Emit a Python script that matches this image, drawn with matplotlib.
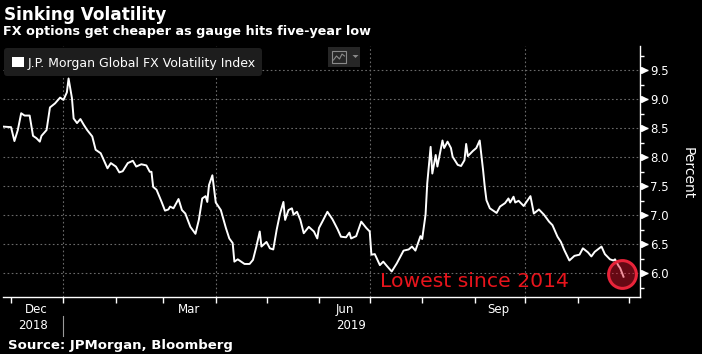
import matplotlib
matplotlib.use("Agg")
import matplotlib.pyplot as plt
import matplotlib.dates as mdates
from matplotlib.patches import FancyBboxPatch, Rectangle, Polygon
from matplotlib.ticker import MultipleLocator
import pandas as pd

# J.P. Morgan Global FX Volatility Index
dates = [
    "2018-11-26", "2018-12-01", "2018-12-03", "2018-12-05", "2018-12-07", "2018-12-09",
    "2018-12-12", "2018-12-14", "2018-12-16", "2018-12-18", "2018-12-19", "2018-12-22",
    "2018-12-24", "2018-12-27", "2018-12-30", "2019-01-01", "2019-01-03", "2019-01-04",
    "2019-01-06", "2019-01-07", "2019-01-09", "2019-01-11", "2019-01-13", "2019-01-15",
    "2019-01-18", "2019-01-20", "2019-01-23", "2019-01-27", "2019-01-29", "2019-02-01",
    "2019-02-03", "2019-02-05", "2019-02-08", "2019-02-11", "2019-02-13", "2019-02-16",
    "2019-02-19", "2019-02-21", "2019-02-22", "2019-02-23", "2019-02-25", "2019-02-28",
    "2019-03-02", "2019-03-04", "2019-03-05", "2019-03-07", "2019-03-10", "2019-03-12",
    "2019-03-14", "2019-03-17", "2019-03-20", "2019-03-22", "2019-03-24", "2019-03-26",
    "2019-03-27", "2019-03-28", "2019-03-30", "2019-04-01", "2019-04-04", "2019-04-07",
    "2019-04-09", "2019-04-11", "2019-04-12", "2019-04-14", "2019-04-18", "2019-04-21",
    "2019-04-23", "2019-04-25", "2019-04-27", "2019-04-28", "2019-05-01", "2019-05-03",
    "2019-05-05", "2019-05-07", "2019-05-09", "2019-05-11", "2019-05-12", "2019-05-14",
    "2019-05-16", "2019-05-17", "2019-05-19", "2019-05-21", "2019-05-23", "2019-05-26",
    "2019-05-29", "2019-05-31", "2019-06-01", "2019-06-03", "2019-06-06", "2019-06-09",
    "2019-06-12", "2019-06-14", "2019-06-17", "2019-06-19", "2019-06-20", "2019-06-23",
    "2019-06-26", "2019-06-29", "2019-07-01", "2019-07-02", "2019-07-04", "2019-07-07",
    "2019-07-09", "2019-07-11", "2019-07-14", "2019-07-17", "2019-07-21", "2019-07-24",
    "2019-07-26", "2019-07-28", "2019-07-31", "2019-08-01", "2019-08-03", "2019-08-04",
    "2019-08-06", "2019-08-07", "2019-08-09", "2019-08-10", "2019-08-13", "2019-08-14",
    "2019-08-16", "2019-08-18", "2019-08-19", "2019-08-22", "2019-08-24", "2019-08-26",
    "2019-08-27", "2019-08-28", "2019-08-31", "2019-09-02", "2019-09-04", "2019-09-06",
    "2019-09-07", "2019-09-08", "2019-09-10", "2019-09-11", "2019-09-14", "2019-09-16",
    "2019-09-19", "2019-09-21", "2019-09-22", "2019-09-24", "2019-09-25", "2019-09-27",
    "2019-09-30", "2019-10-04", "2019-10-06", "2019-10-09", "2019-10-12", "2019-10-15",
    "2019-10-17", "2019-10-20", "2019-10-22", "2019-10-24", "2019-10-27", "2019-10-30",
    "2019-11-02", "2019-11-04", "2019-11-07", "2019-11-09", "2019-11-11", "2019-11-15",
    "2019-11-17", "2019-11-20", "2019-11-22", "2019-11-23", "2019-11-25", "2019-11-26",
    "2019-11-28",
]
values = [
    8.53, 8.52, 8.28, 8.47, 8.76, 8.72,
    8.72, 8.37, 8.33, 8.27, 8.37, 8.47,
    8.86, 8.93, 9.03, 8.99, 9.12, 9.36,
    9.02, 8.67, 8.59, 8.66, 8.56, 8.47,
    8.36, 8.13, 8.07, 7.81, 7.90, 7.84,
    7.74, 7.76, 7.90, 7.94, 7.84, 7.88,
    7.86, 7.75, 7.75, 7.49, 7.44, 7.23,
    7.08, 7.10, 7.15, 7.12, 7.28, 7.09,
    7.03, 6.80, 6.68, 6.92, 7.29, 7.33,
    7.23, 7.52, 7.69, 7.22, 7.09, 6.78,
    6.60, 6.52, 6.20, 6.24, 6.16, 6.16,
    6.23, 6.46, 6.72, 6.46, 6.54, 6.43,
    6.41, 6.75, 7.03, 7.23, 6.92, 7.09,
    7.12, 7.01, 7.06, 6.92, 6.69, 6.80,
    6.72, 6.60, 6.78, 6.89, 7.06, 6.93,
    6.76, 6.63, 6.62, 6.70, 6.60, 6.64,
    6.89, 6.78, 6.72, 6.32, 6.33, 6.14,
    6.20, 6.13, 6.03, 6.17, 6.39, 6.41,
    6.46, 6.39, 6.64, 6.59, 7.01, 7.55,
    8.18, 7.72, 8.04, 7.84, 8.29, 8.16,
    8.27, 8.16, 8.01, 7.87, 7.85, 7.95,
    8.23, 8.02, 8.11, 8.16, 8.29, 7.78,
    7.49, 7.26, 7.12, 7.10, 7.04, 7.15,
    7.21, 7.29, 7.22, 7.32, 7.22, 7.25,
    7.16, 7.33, 7.03, 7.10, 7.01, 6.89,
    6.83, 6.63, 6.54, 6.40, 6.22, 6.30,
    6.32, 6.43, 6.36, 6.29, 6.37, 6.46,
    6.33, 6.24, 6.22, 6.24, 6.13, 6.09,
    5.94,
]

month_labels = ["Dec", "Mar", "Jun", "Sep"]
month_label_dates = ["2018-12-16", "2019-03-16", "2019-06-16", "2019-09-15"]
year_labels = ["2018", "2019"]
year_label_dates = ["2018-12-14", "2019-06-20"]

x = pd.to_datetime(dates)

W, H = 702, 354
fig = plt.figure(figsize=(W / 100, H / 100), dpi=100, facecolor="black")
ax = fig.add_axes([3 / W, 1 - 297 / H, 637 / W, 251 / H])
ax.set_facecolor("black")

ax.plot(x, values, color="white", lw=1.4, zorder=3, solid_joinstyle="round")

# axis ranges
ax.set_xlim(pd.Timestamp("2018-11-26 06:00"), pd.Timestamp("2019-12-07 18:00"))
ax.set_ylim(5.59, 9.92)

# grid + ticks
grid_kw = dict(color="#6a6a6a", linestyle=(0, (1.5, 2.2)), linewidth=0.8)
ax.xaxis.set_major_locator(mdates.MonthLocator(bymonth=[1, 4, 7, 10]))
ax.xaxis.set_minor_locator(mdates.MonthLocator())
ax.xaxis.set_major_formatter(plt.NullFormatter())
ax.yaxis.set_major_locator(MultipleLocator(0.5))
ax.yaxis.set_minor_locator(MultipleLocator(0.25))
ax.yaxis.set_major_formatter(plt.FormatStrFormatter("%.1f"))
ax.grid(True, which="major", **grid_kw)
ax.set_axisbelow(True)

ax.yaxis.tick_right()
ax.tick_params(axis="x", which="both", direction="out", length=4, width=1,
               color="white", labelbottom=False)
ax.tick_params(axis="y", which="major", direction="out", length=6, width=1,
               color="white", labelcolor="white", labelsize=8.5, pad=1.5)
ax.tick_params(axis="y", which="minor", direction="out", length=3, width=1, color="white")

for s in ["left", "top"]:
    ax.spines[s].set_visible(False)
for s in ["bottom", "right"]:
    ax.spines[s].set_color("white")
    ax.spines[s].set_linewidth(1)

# triangle markers on the major y ticks
yt = [v for v in ax.get_yticks() if 5.59 <= v <= 9.92]
ax.plot([1.006] * len(yt), yt, ">", color="white", ms=5, transform=ax.get_yaxis_transform(),
        clip_on=False, zorder=5)

# month / year labels
tr = ax.get_xaxis_transform()
for lab, d in zip(month_labels, month_label_dates):
    ax.text(pd.Timestamp(d), -0.05, lab, transform=tr, ha="center", va="center",
            color="white", fontsize=8.5)
for lab, d in zip(year_labels, year_label_dates):
    ax.text(pd.Timestamp(d), -0.113, lab, transform=tr, ha="center", va="center",
            color="white", fontsize=8.5)
ax.plot([pd.Timestamp("2019-01-01")] * 2, [-0.075, -0.155], color="#9a9a9a", lw=0.8,
        transform=tr, clip_on=False)

# annotation
ax.plot(pd.Timestamp("2019-11-27"), 5.985, "o", ms=20, mfc="#e3142d", mec="none",
        alpha=0.45, zorder=4)
ax.plot(pd.Timestamp("2019-11-27"), 5.985, "o", ms=20, mfc="none", mec="#e8243a",
        mew=2.2, zorder=5)
ax.text(pd.Timestamp("2019-07-07"), 5.76, "Lowest since 2014", color="#e8141c",
        fontsize=14.7, ha="left", va="baseline", zorder=6)

# header / footer text
fig.text(4 / W, 1 - 19.5 / H, "Sinking Volatility", color="white", fontsize=12.2,
         fontweight="bold", va="baseline")
fig.text(3 / W, 1 - 35.5 / H, "FX options get cheaper as gauge hits five-year low",
         color="white", fontsize=9.2, fontweight="bold", va="baseline")
fig.text(8 / W, 1 - 348.5 / H, "Source: JPMorgan, Bloomberg", color="white", fontsize=9.5,
         fontweight="bold", va="baseline")
fig.text(688 / W, 1 - 173 / H, "Percent", color="white", fontsize=10, rotation=270,
         ha="center", va="center")

# legend box and chart-type button, drawn in pixel space
ov = fig.add_axes([0, 0, 1, 1], zorder=10)
ov.set_xlim(0, W)
ov.set_ylim(H, 0)
ov.axis("off")
ov.patch.set_alpha(0)
ov.add_patch(FancyBboxPatch((4, 48), 258, 28, boxstyle="round,pad=0,rounding_size=3",
                            fc="#1d1d1d", ec="none"))
ov.add_patch(Rectangle((12, 57), 12, 10, fc="white", ec="none"))
ov.text(28, 67, "J.P. Morgan Global FX Volatility Index", color="white", fontsize=9.0,
        va="baseline")
ov.add_patch(Rectangle((328, 47), 32, 20, fc="#262626", ec="none"))
ov.add_patch(Rectangle((332, 50.5), 14, 12.5, fc="none", ec="#8a8a8a", lw=0.8))
ov.plot([333.5, 336.5, 339.5, 342, 344.5], [60, 56, 59, 54, 56], color="#8a8a8a", lw=0.8)
ov.add_patch(Polygon([[352.5, 55], [358.5, 55], [355.5, 58]], fc="#8a8a8a", ec="none"))

fig.savefig("out.png", dpi=100, facecolor="black")
